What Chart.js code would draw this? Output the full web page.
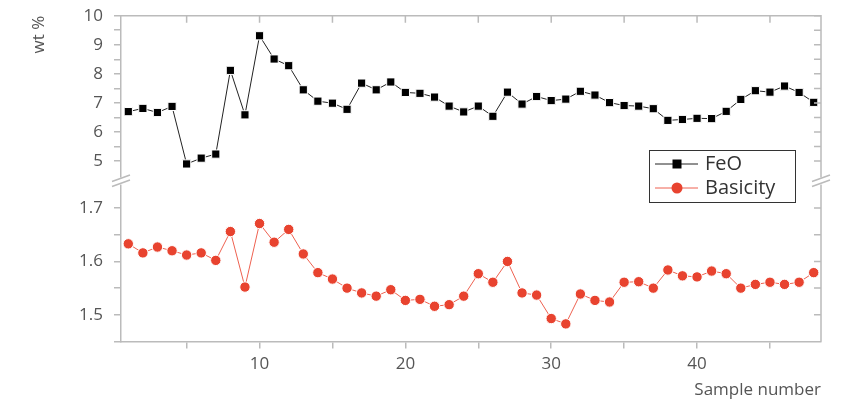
<!DOCTYPE html>
<html>
<head>
<meta charset="utf-8">
<script src="https://cdn.jsdelivr.net/npm/chart.js@4.4.1/dist/chart.umd.min.js"></script>
<style>
html, body { margin: 0; padding: 0; background: #fff; }
#wrap { width: 855px; height: 405px; position: relative; }
</style>
</head>
<body>
<div id="wrap"><canvas id="chart"></canvas></div>
<script>
// ==================== DATOS ====================
const muestras = [1, 2, 3, 4, 5, 6, 7, 8, 9, 10, 11, 12, 13, 14, 15, 16, 17, 18, 19, 20, 21, 22, 23, 24,
                  25, 26, 27, 28, 29, 30, 31, 32, 33, 34, 35, 36, 37, 38, 39, 40, 41, 42, 43, 44, 45, 46, 47, 48];

const feo = [6.70, 6.81, 6.67, 6.88, 4.90, 5.10, 5.24, 8.12, 6.59, 9.31, 8.51, 8.28,
             7.45, 7.06, 6.99, 6.78, 7.68, 7.45, 7.72, 7.36, 7.33, 7.20, 6.89, 6.69,
             6.89, 6.54, 7.37, 6.96, 7.22, 7.08, 7.13, 7.40, 7.27, 7.01, 6.91, 6.89,
             6.80, 6.40, 6.43, 6.47, 6.46, 6.71, 7.12, 7.42, 7.37, 7.58, 7.36, 7.02];

const basicidad = [1.633, 1.616, 1.627, 1.620, 1.612, 1.616, 1.602, 1.656, 1.552, 1.671, 1.636, 1.660,
                   1.614, 1.579, 1.567, 1.550, 1.541, 1.535, 1.547, 1.527, 1.529, 1.516, 1.519, 1.535,
                   1.577, 1.561, 1.600, 1.541, 1.537, 1.493, 1.483, 1.539, 1.527, 1.524, 1.561, 1.562,
                   1.550, 1.584, 1.573, 1.571, 1.582, 1.577, 1.550, 1.557, 1.561, 1.557, 1.561, 1.579];

const ticksX = [5, 10, 15, 20, 25, 30, 35, 40, 45];
const ticksFeo = [5, 5.5, 6, 6.5, 7, 7.5, 8, 8.5, 9, 9.5, 10];
const ticksBas = [1.45, 1.5, 1.55, 1.6, 1.65, 1.7];

const GRIS = '#bbbbbb';
const TEXTO = '#555555';
const ROJO = '#e8432f';
const FUENTE = "'Open Sans', 'DejaVu Sans', sans-serif";

// ── Plugin: marco, ticks internos, corte del eje y leyenda ──
const marcoPlugin = {
    id: 'marco',
    afterDraw(chart) {
        const { ctx, chartArea: a, scales } = chart;
        const sx = scales.x, st = scales.yTop, sb = scales.yBot;
        ctx.save();
        ctx.strokeStyle = GRIS;
        ctx.lineWidth = 1.5;

        // borde superior y derecho
        ctx.beginPath();
        ctx.moveTo(a.left, a.top);
        ctx.lineTo(a.right, a.top);
        ctx.lineTo(a.right, a.bottom);
        ctx.stroke();

        // ticks hacia adentro
        ctx.beginPath();
        ticksX.forEach(v => {
            const px = sx.getPixelForValue(v);
            ctx.moveTo(px, a.top);
            ctx.lineTo(px, a.top + 7);
        });
        ticksFeo.forEach(v => {
            const py = st.getPixelForValue(v);
            ctx.moveTo(a.right - 7, py);
            ctx.lineTo(a.right, py);
        });
        ticksBas.forEach(v => {
            if (v < 1.5) return;
            const py = sb.getPixelForValue(v);
            ctx.moveTo(a.right - 7, py);
            ctx.lineTo(a.right, py);
        });
        ctx.stroke();

        // corte del eje
        const yc = (st.bottom + sb.top) / 2;
        [a.left, a.right].forEach(xe => {
            ctx.fillStyle = '#fff';
            ctx.fillRect(xe - 3, yc - 3.5, 6, 7);
            ctx.beginPath();
            ctx.moveTo(xe - 9, yc + 0.5);
            ctx.lineTo(xe + 9, yc - 6);
            ctx.moveTo(xe - 9, yc + 5.5);
            ctx.lineTo(xe + 9, yc - 1);
            ctx.stroke();
        });

        // leyenda
        const lx = 649.5, ly = 150.5, lw = 146, lh = 52;
        ctx.fillStyle = '#fff';
        ctx.fillRect(lx, ly, lw, lh);
        ctx.strokeStyle = '#333';
        ctx.lineWidth = 1;
        ctx.strokeRect(lx, ly, lw, lh);

        const filas = [
            { y: 164, texto: 'FeO', tipo: 'rect' },
            { y: 188, texto: 'Basicity', tipo: 'circle' }
        ];
        ctx.font = `20px ${FUENTE}`;
        ctx.textBaseline = 'middle';
        filas.forEach(f => {
            ctx.strokeStyle = f.tipo === 'rect' ? '#222' : '#ee6150';
            ctx.beginPath();
            ctx.moveTo(655, f.y);
            ctx.lineTo(698, f.y);
            ctx.stroke();
            ctx.fillStyle = f.tipo === 'rect' ? '#000' : ROJO;
            ctx.beginPath();
            if (f.tipo === 'rect') ctx.rect(672.5, f.y - 4.5, 9, 9);
            else ctx.arc(677, f.y, 5.5, 0, Math.PI * 2);
            ctx.fill();
            ctx.fillStyle = '#333';
            ctx.fillText(f.texto, 705, f.y);
        });
        ctx.restore();
    }
};

const ejeComun = {
    grid: { drawOnChartArea: false, tickLength: 7, color: GRIS, lineWidth: 1.5 },
    border: { color: GRIS, width: 1.5 }
};

// ancho fijo del eje y sin relleno extra por las etiquetas (los ejes apilados lo suman)
function ajustarEjeY(s) {
    s.width = 121;
    s.paddingTop = 0;
    s.paddingBottom = 0;
}

new Chart(document.getElementById('chart'), {
    type: 'line',
    data: {
        datasets: [
            {
                label: 'FeO',
                data: muestras.map((m, i) => ({ x: m, y: feo[i] })),
                yAxisID: 'yTop',
                borderColor: '#222',
                borderWidth: 1,
                pointStyle: 'rect',
                pointRadius: 5.8,
                pointBackgroundColor: '#000',
                pointBorderColor: '#fff',
                pointBorderWidth: 1,
                tension: 0
            },
            {
                label: 'Basicity',
                data: muestras.map((m, i) => ({ x: m, y: basicidad[i] })),
                yAxisID: 'yBot',
                borderColor: '#ee6150',
                borderWidth: 1,
                pointStyle: 'circle',
                pointRadius: 5.2,
                pointBackgroundColor: ROJO,
                pointBorderColor: '#fff',
                pointBorderWidth: 1,
                tension: 0
            }
        ]
    },
    options: {
        responsive: true,
        maintainAspectRatio: false,
        animation: false,
        events: [],
        layout: { padding: { top: 15.7, right: 34, left: 0, bottom: 0 } },
        plugins: { legend: { display: false }, tooltip: { enabled: false } },
        scales: {
            x: {
                ...ejeComun,
                type: 'linear',
                min: 0.5,
                max: 48.5,
                afterBuildTicks: s => { s.ticks = ticksX.map(v => ({ value: v })); },
                afterFit: s => { s.height = 63.5; },
                ticks: {
                    autoSkip: false, maxRotation: 0, padding: 5,
                    color: TEXTO, font: { family: FUENTE, size: 17 },
                    callback: v => (v % 10 === 0 ? v : '')
                },
                title: {
                    display: true, text: 'Sample number', align: 'end',
                    color: TEXTO, font: { family: FUENTE, size: 17 },
                    padding: { top: 0, bottom: 5 }
                }
            },
            // el orden importa: el último eje apilado queda arriba
            yBot: {
                ...ejeComun,
                type: 'linear',
                position: 'left',
                stack: 'v',
                stackWeight: 160.4,
                min: 1.45,
                max: 1.7506,
                afterBuildTicks: s => { s.ticks = ticksBas.map(v => ({ value: v })); },
                afterFit: ajustarEjeY,
                ticks: {
                    autoSkip: false, padding: 11,
                    color: TEXTO, font: { family: FUENTE, size: 17 },
                    callback: v => (v >= 1.5 && Math.abs(v * 10 - Math.round(v * 10)) < 1e-6 ? v.toFixed(1) : '')
                }
            },
            yTop: {
                ...ejeComun,
                type: 'linear',
                position: 'left',
                stack: 'v',
                stackWeight: 165.3,
                min: 4.312,
                max: 10,
                afterBuildTicks: s => { s.ticks = ticksFeo.map(v => ({ value: v })); },
                afterFit: ajustarEjeY,
                ticks: {
                    autoSkip: false, padding: 11,
                    color: TEXTO, font: { family: FUENTE, size: 17 },
                    callback: v => (Number.isInteger(v) ? v : '')
                },
                title: {
                    display: true, text: 'wt %', align: 'end',
                    color: TEXTO, font: { family: FUENTE, size: 17 },
                    padding: { top: 29, bottom: 0 }
                }
            }
        }
    },
    plugins: [marcoPlugin]
});
</script>
</body>
</html>
